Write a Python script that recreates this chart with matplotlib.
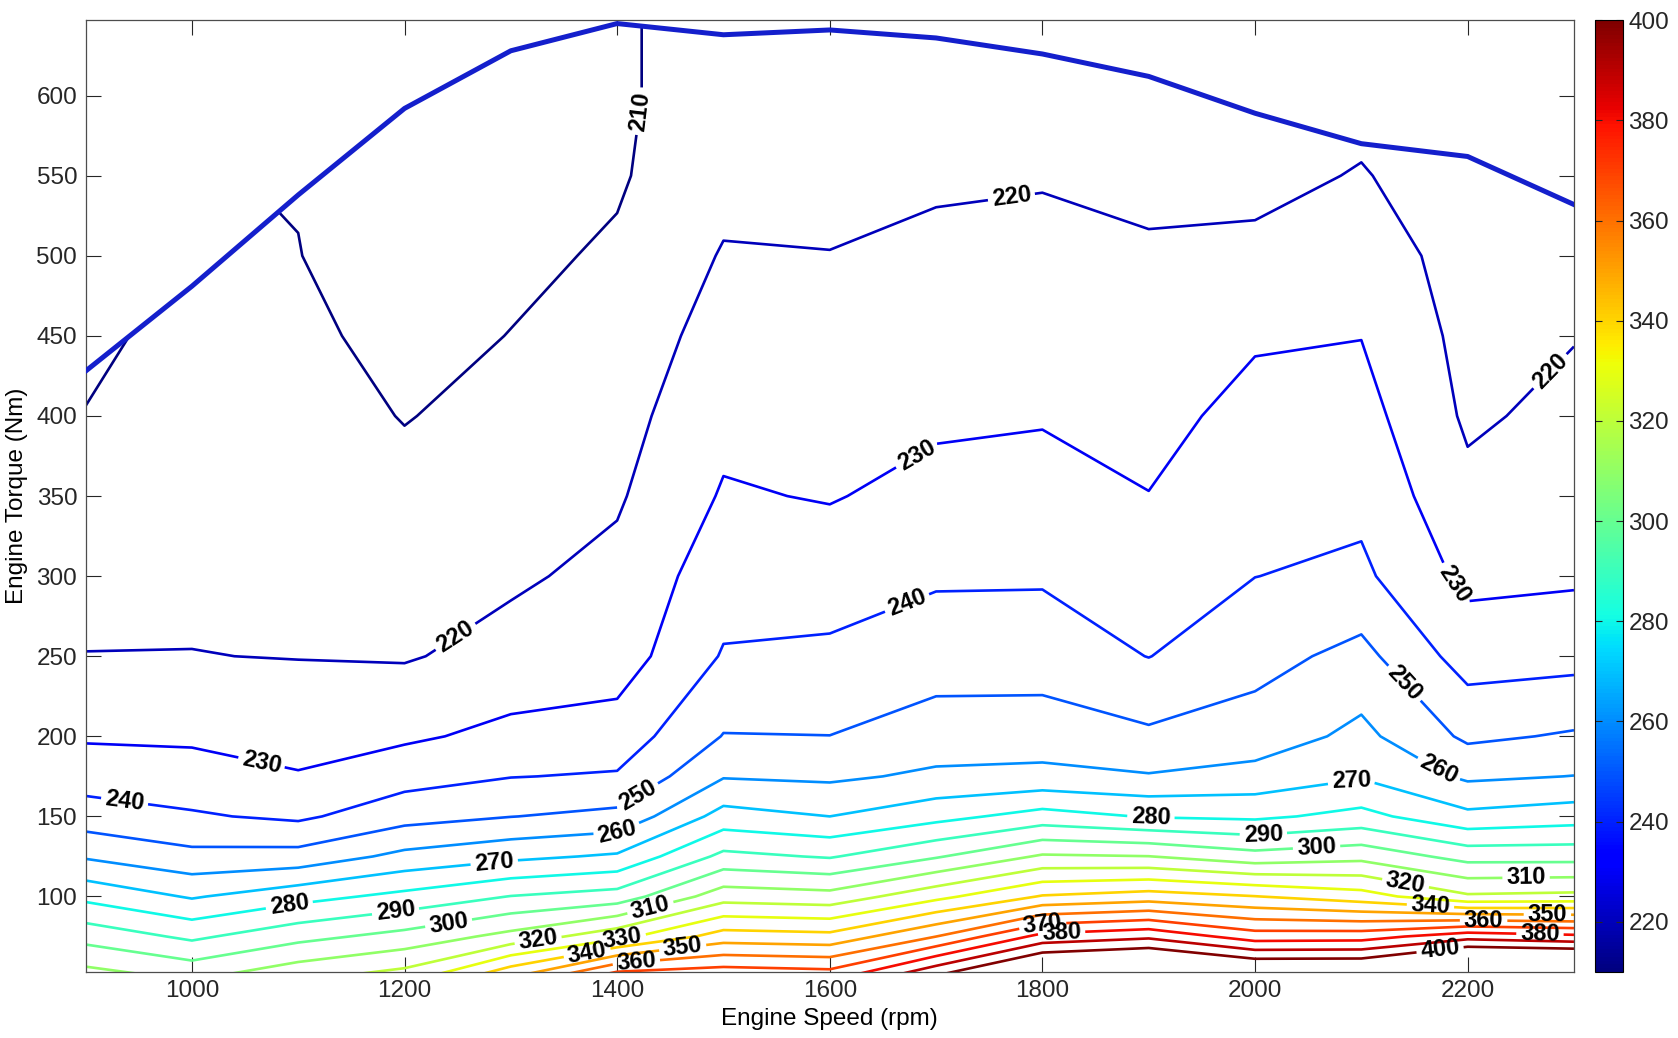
import numpy as np
import matplotlib
matplotlib.use("Agg")
import matplotlib.pyplot as plt
from matplotlib.patches import Polygon
from matplotlib.colors import Normalize
from matplotlib.cm import ScalarMappable

plt.rcParams['font.family'] = ['Liberation Sans', 'DejaVu Sans']

# ---------------- data ----------------
speeds = [900, 1000, 1100, 1200, 1300, 1400, 1500, 1600, 1700, 1800, 1900, 2000, 2100, 2200, 2300]
torques = [50, 75, 100, 125, 150, 175, 200, 250, 300, 350, 400, 450, 500, 550, 600, 650]

# BSFC (g/kWh) per speed column, one value per torque row
bsfc_900 = [314.5, 296.4, 277.4, 258.9, 244.6, 235.6, 228.8, 220.2, 216.9, 213.7, 210.4, 207.2, 205.0, 202.0, 201.0, 201.0]
bsfc_1000 = [308.0, 288.0, 269.0, 252.8, 241.1, 234.1, 228.4, 220.2, 218.0, 216.5, 215.0, 214.0, 210.5, 210.5, 208.0, 207.0]
bsfc_1100 = [317.5, 296.9, 276.4, 253.6, 238.2, 230.6, 226.7, 219.7, 218.0, 216.0, 214.1, 212.1, 210.2, 209.5, 207.0, 206.0]
bsfc_1200 = [324.4, 303.4, 282.8, 262.7, 246.2, 236.1, 228.4, 219.2, 216.2, 212.9, 209.6, 207.0, 205.0, 204.0, 203.5, 203.5]
bsfc_1300 = [349.0, 313.2, 290.3, 267.6, 249.8, 239.7, 232.6, 223.2, 218.6, 215.8, 213.0, 210.2, 208.0, 207.0, 206.0, 206.0]
bsfc_1400 = [376.0, 326.7, 294.3, 271.4, 252.6, 240.9, 234.4, 225.0, 222.5, 218.9, 216.5, 214.0, 211.2, 208.95, 208.8, 208.95]
bsfc_1500 = [378.0, 344.7, 315.6, 292.6, 273.8, 259.3, 250.4, 240.8, 235.6, 230.9, 227.3, 224.0, 220.7, 217.0, 214.0, 213.5]
bsfc_1600 = [376.0, 343.1, 313.7, 289.1, 270.0, 258.2, 250.1, 241.9, 235.2, 229.4, 226.4, 223.3, 220.2, 217.5, 215.0, 213.0]
bsfc_1700 = [401.0, 360.0, 327.1, 299.0, 276.7, 261.8, 254.5, 245.5, 238.7, 233.0, 228.4, 225.2, 222.0, 218.7, 216.0, 214.0]
bsfc_1800 = [425.0, 383.3, 340.8, 311.3, 284.0, 262.5, 255.3, 245.0, 239.0, 233.9, 229.2, 225.9, 222.6, 219.3, 216.5, 214.0]
bsfc_1900 = [430.0, 388.0, 344.6, 310.2, 279.3, 260.7, 251.7, 239.8, 235.0, 230.2, 227.1, 224.0, 221.0, 218.0, 215.0, 213.0]
bsfc_2000 = [420.0, 375.0, 340.3, 303.8, 278.0, 263.5, 254.5, 246.5, 239.9, 236.4, 232.9, 229.0, 222.0, 217.5, 214.0, 212.0]
bsfc_2100 = [420.0, 375.7, 334.4, 306.9, 283.1, 269.0, 262.6, 253.0, 242.0, 237.4, 233.6, 229.8, 225.2, 220.6, 217.0, 215.0]
bsfc_2200 = [440.0, 386.3, 321.5, 296.3, 272.5, 258.2, 248.1, 235.5, 227.5, 222.4, 218.5, 217.0, 216.0, 215.0, 214.0, 213.0]
bsfc_2300 = [440.0, 382.6, 322.7, 296.3, 275.4, 260.2, 251.1, 236.6, 228.6, 225.6, 222.6, 219.6, 217.5, 216.0, 215.0, 214.0]

# full-load (maximum torque) curve at each speed
max_torque = [428, 481, 538, 592, 628, 645, 638, 641, 636, 626, 612, 589, 570, 562, 532]

levels = list(range(210, 401, 10))
cbar_ticks = list(range(220, 401, 20))
x_ticks = [1000, 1200, 1400, 1600, 1800, 2000, 2200]
y_ticks = [100, 150, 200, 250, 300, 350, 400, 450, 500, 550, 600]

# ---------------- figure ----------------
fig = plt.figure(figsize=(16.78, 10.38), dpi=100)
ax = fig.add_axes([0.051, 0.0638, 0.887, 0.9166])
cax = fig.add_axes([0.9503, 0.0638, 0.0172, 0.9166])

Z = np.column_stack([bsfc_900, bsfc_1000, bsfc_1100, bsfc_1200, bsfc_1300, bsfc_1400,
                     bsfc_1500, bsfc_1600, bsfc_1700, bsfc_1800, bsfc_1900, bsfc_2000,
                     bsfc_2100, bsfc_2200, bsfc_2300])
X, Y = np.meshgrid(speeds, torques)

norm = Normalize(vmin=210, vmax=400)
cs = ax.contour(X, Y, Z, levels=levels, cmap='jet', norm=norm, linewidths=1.9)

# clip contours to the region under the full-load curve
verts = [(800, 0), (800, max_torque[0])] + list(zip(speeds, max_torque)) + \
        [(2400, max_torque[-1]), (2400, 0)]
clip_poly = Polygon(verts, closed=True, transform=ax.transData,
                    facecolor='none', edgecolor='none')
cs.set_clip_path(clip_poly)

label_pos = [(1424, 590), (1251, 259), (1771, 536), (2285, 423),
             (1064, 179), (1688, 368), (2177, 290),
             (936, 156), (1674, 281),
             (1421, 161), (2134, 229),
             (1401, 138), (2169, 175),
             (1285, 117), (2091, 171),
             (1092, 93), (1902, 148),
             (1192, 88), (2008, 137),
             (1242, 81), (2058, 129),
             (1432, 91), (2255, 109),
             (1326, 71), (2141, 106),
             (1405, 74), (1372, 64), (1462, 66), (1418, 59.5),
             (1800, 85), (1818, 78), (2174, 67),
             (2165, 94), (2215, 85), (2275, 88.5), (2268, 76.5)]
texts = ax.clabel(cs, inline=True, fmt='%d', colors='k', fontsize=17,
                  manual=label_pos, inline_spacing=4)
for t in texts:
    t.set_fontweight('bold')

ax.plot(speeds, max_torque, color=(0.08, 0.12, 0.80), linewidth=3.6, zorder=5)

ax.set_xlim(900, 2300)
ax.set_ylim(53, 647)
ax.set_xticks(x_ticks)
ax.set_yticks(y_ticks)
ax.tick_params(direction='in', length=11, width=0.8, top=True, right=True,
               labelsize=17.5, colors='0.15', pad=6)
for s in ax.spines.values():
    s.set_color('0.3')
    s.set_linewidth(0.9)
ax.set_xlabel('Engine Speed (rpm)', fontsize=17.5, labelpad=4)
ax.set_ylabel('Engine Torque (Nm)', fontsize=17.5, labelpad=6)

sm = ScalarMappable(norm=norm, cmap='jet')
cb = fig.colorbar(sm, cax=cax, ticks=cbar_ticks)
cb.ax.tick_params(direction='in', length=5, width=0.8, labelsize=17.5, left=True, right=True, colors='0.15')
cb.outline.set_linewidth(0.8)

fig.savefig('out.png', dpi=100)
